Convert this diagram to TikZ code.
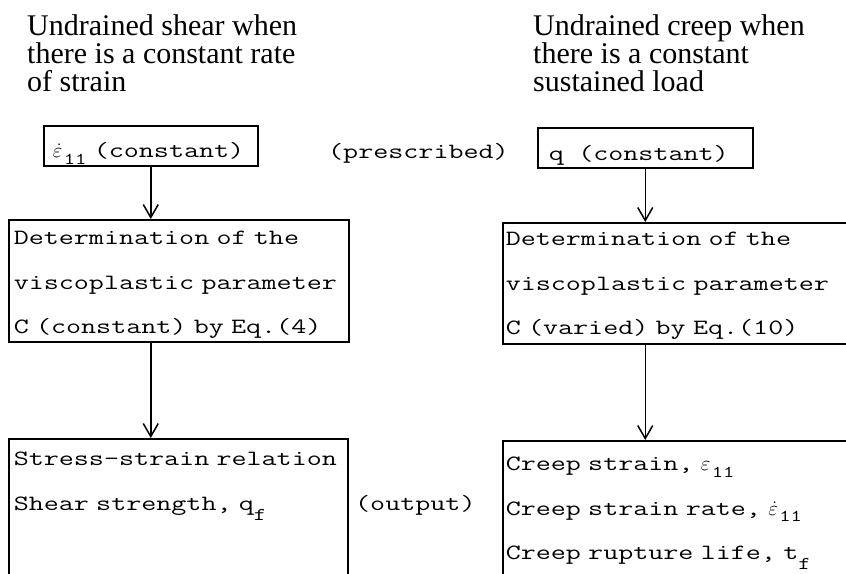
\documentclass[tikz,border=0pt]{standalone}
\usepackage{fontspec}
\usepackage{amsmath}
\usetikzlibrary{arrows.meta}
\setmonofont{Latin Modern Mono}[FakeStretch=1.34]
\newfontfamily\headfont{Liberation Serif}
\newcommand{\typefont}{\ttfamily\fontsize{21.8}{44.5}\selectfont}
\newcommand{\lowsub}[1]{\raisebox{-0.45em}{\fontsize{18}{18}\selectfont #1}}
\newcommand{\epsrate}{\(\dot{\varepsilon}\)\kern1.5pt\raisebox{-0.3em}{\fontsize{16.5}{16.5}\selectfont 11}}
\newcommand{\epsplain}{\(\varepsilon\)\kern1.5pt\raisebox{-0.3em}{\fontsize{16.5}{16.5}\selectfont 11}}

\begin{document}
\begin{tikzpicture}[
	x=1pt, y=-1pt,
	box/.style={draw, line width=1.5pt, align=left, anchor=north west, inner ysep=0pt, font=\typefont},
	head/.style={align=left, inner sep=0pt, anchor=north west, font=\headfont\fontsize{30}{28}\selectfont},
	note/.style={inner sep=0pt, anchor=base west, font=\typefont},
	arrow/.style={-{Straight Barb[length=13pt,width=15pt]}, line width=1.5pt}
]
\useasboundingbox (0,0) rectangle (846,573);
\clip (0,0) rectangle (846,573);

% column titles
\node[head] (headL) at (27,14.5) {Undrained shear when\\there is a constant rate\\of strain};
\node[head] (headR) at (533,14.5) {Undrained creep when\\there is a constant\\sustained load};

% prescribed quantities
\node[box, inner xsep=9pt, text width=196pt, text height=32pt, text depth=8pt] (rate) at (43,125)
	{\epsrate~(constant)};
\node[note] (presc) at (328,158) {(prescribed)};
\node[box, inner xsep=11pt, text width=193pt, text height=33pt, text depth=7pt] (load) at (537,127)
	{q~~(constant)};

% viscoplastic parameter
\node[box, inner xsep=5pt, text width=330pt, text height=25pt, text depth=97pt] (paramL) at (8,219)
	{Determination of the\\viscoplastic parameter\\C (constant) by Eq.(4)};
\node[box, inner xsep=3pt, text width=362pt, text height=23pt, text depth=98pt] (paramR) at (502,222)
	{Determination of the\\viscoplastic parameter\\C (varied) by Eq.(10)};

% results
\node[box, inner xsep=5pt, text width=329pt, text height=27pt, text depth=135pt] (shear) at (8,438)
	{Stress-strain relation\\Shear strength, q\lowsub{f}};
\node[note] (outp) at (355,510) {(output)};
\node[box, inner xsep=3pt, text width=362pt, text height=30pt, text depth=127pt] (creep) at (502,440)
	{Creep strain, \epsplain\\Creep strain rate, \epsrate\\Creep rupture life, t\lowsub{f}};

\draw[arrow] (rate) -- (rate |- paramL.north);
\draw[arrow] (paramL.south -| rate) -- (rate |- shear.north);
\draw[arrow] (load) -- (load |- paramR.north);
\draw[arrow] (paramR.south -| load) -- (load |- creep.north);
\end{tikzpicture}
\end{document}
